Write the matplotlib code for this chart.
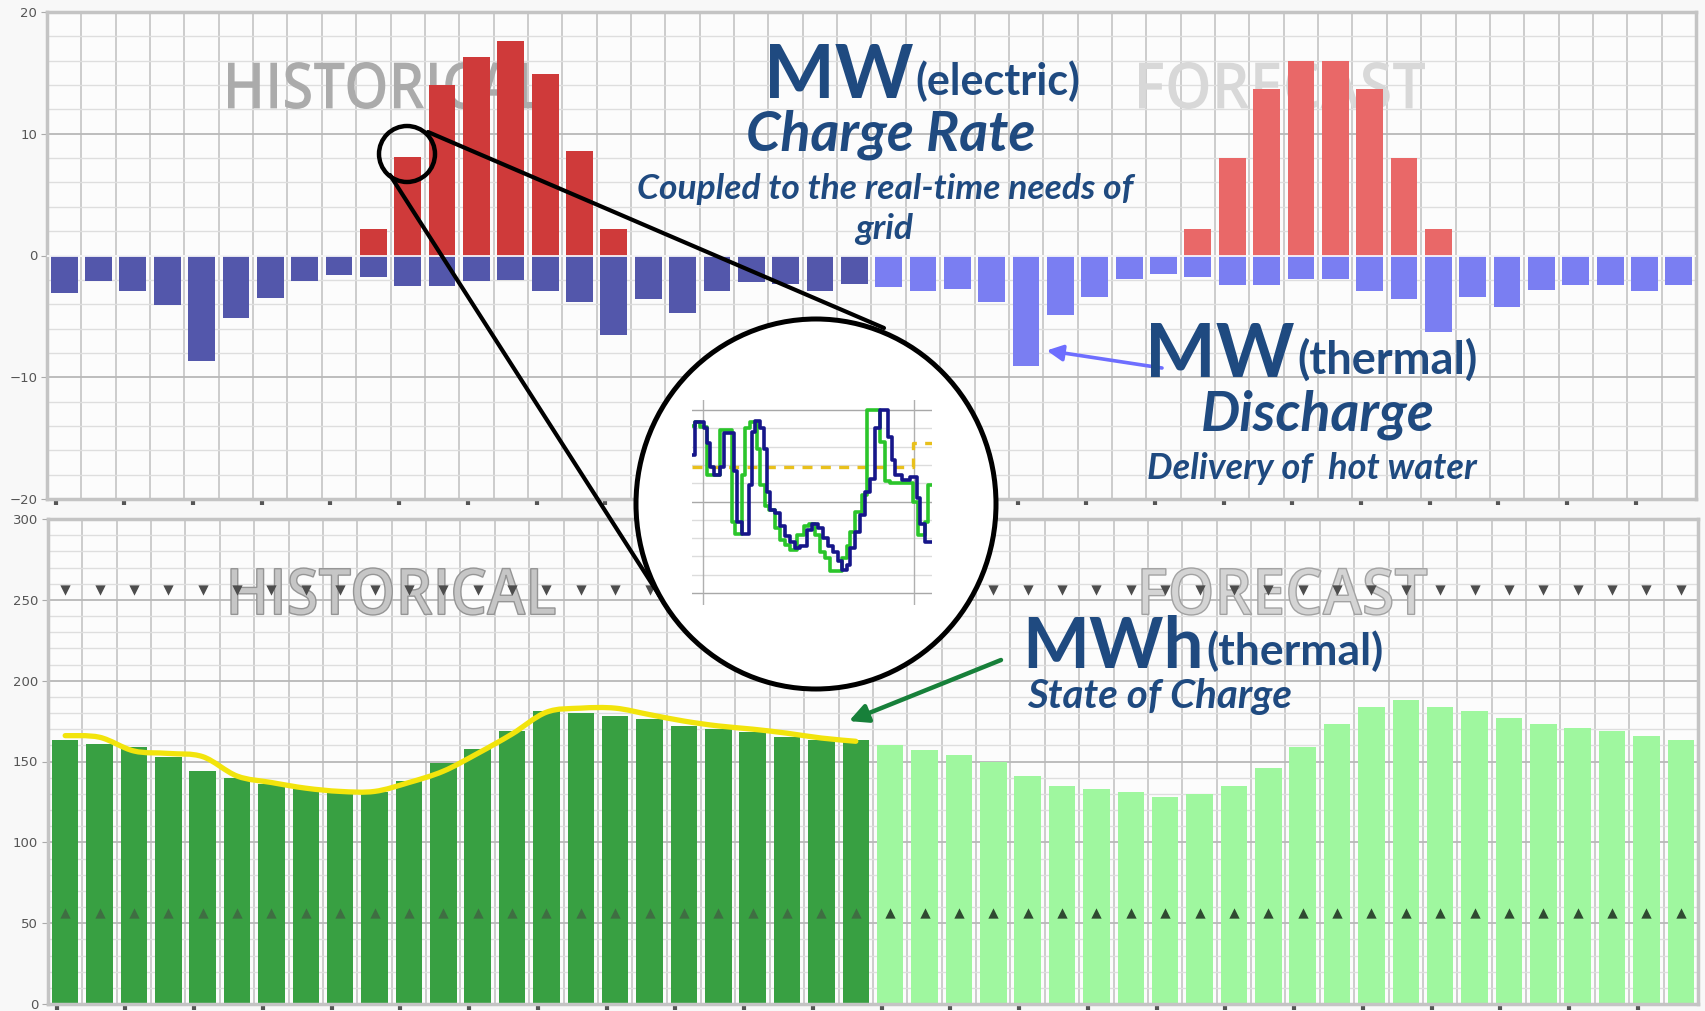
import matplotlib
matplotlib.use('Agg')
import matplotlib.pyplot as plt
import numpy as np
from matplotlib.patches import Ellipse, PathPatch
from matplotlib.path import Path
from matplotlib.textpath import TextPath
from matplotlib.font_manager import FontProperties
from matplotlib.transforms import Affine2D
from matplotlib.ticker import MultipleLocator

W, H = 1706, 1011

# 48 hourly slots: first 24 historical, last 24 forecast
n_slots = 48
n_hist = 24

# MW(electric) charge rate
charge_hist = [0, 0, 0, 0, 0, 0, 0, 0, 0, 2.2, 8.1, 14.0, 16.3, 17.6, 14.9, 8.6,
               2.2, 0, 0, 0, 0, 0, 0, 0]
charge_fc = [0, 0, 0, 0, 0, 0, 0, 0, 0, 2.2, 8.0, 13.7, 16.0, 16.0, 13.7, 8.0,
             2.2, 0, 0, 0, 0, 0, 0, 0]

# MW(thermal) discharge
discharge = [-3.1, -2.1, -2.95, -4.1, -8.7, -5.1, -3.5, -2.1, -1.6, -1.8, -2.5, -2.5,
             -2.1, -2.0, -2.95, -3.8, -6.5, -3.6, -4.7, -2.95, -2.2, -2.3, -2.95, -2.3,
             -2.6, -2.95, -2.75, -3.8, -9.1, -4.9, -3.4, -1.9, -1.5, -1.8, -2.4, -2.4,
             -1.9, -1.9, -2.95, -3.6, -6.3, -3.4, -4.2, -2.8, -2.4, -2.4, -2.95, -2.4]

# MWh(thermal) state of charge
soc = [163, 161, 159, 153, 144, 140, 136, 133, 131, 131, 138, 149,
       158, 169, 181, 180, 178, 176, 172, 170, 168, 165, 163, 163,
       160, 157, 154, 150, 141, 135, 133, 131, 128, 130, 135, 146,
       159, 173, 184, 188, 184, 181, 177, 173, 171, 169, 166, 163]
soc_measured = [166, 165, 156.5, 155, 153, 141, 137, 133.5, 131.5, 131.5, 137, 144,
                155, 167, 180.5, 183, 183, 179, 175, 172, 170, 167.5, 164.5, 162.5]
soc_upper = 256
soc_lower = 56

# magnified detail (step traces)
blue_x = [35, 45, 70, 80, 90, 100, 120, 130, 160, 170, 185, 205, 215, 225, 240, 250,
          260, 270, 285, 300, 315, 330, 345, 360, 380, 395, 415, 430, 445, 460, 475,
          485, 500, 510, 525, 540, 555, 570, 585, 600, 625, 635, 645, 665, 690, 710,
          720, 735, 756]
blue_v = [15.1, 18.7, 18.0, 16.4, 13.8, 12.9, 13.8, 17.5, 13.3, 7.8, 6.5, 11.8, 17.6,
          18.8, 18.0, 15.8, 11.1, 9.1, 8.7, 7.3, 6.2, 5.6, 4.9, 5.1, 6.9, 7.5, 7.1, 6.0,
          5.1, 4.5, 3.5, 2.5, 3.1, 4.9, 6.7, 8.5, 11.1, 12.5, 18.0, 20.0, 17.1, 14.5,
          12.9, 12.4, 12.7, 10.4, 7.5, 5.6, 5.6]
green_x = [35, 45, 60, 80, 120, 155, 165, 185, 195, 210, 230, 240, 255, 265, 285, 300,
           315, 330, 350, 370, 385, 405, 420, 435, 450, 485, 500, 510, 525, 545, 560,
           600, 615, 630, 700, 715, 735, 745, 756]
green_v = [18.3, 18.7, 18.2, 12.9, 17.8, 7.8, 6.5, 12.9, 18.0, 18.7, 15.8, 11.8, 9.5,
           9.1, 7.1, 5.8, 5.3, 4.7, 6.4, 7.3, 7.5, 6.4, 4.5, 3.8, 2.4, 3.8, 5.1, 6.7,
           8.9, 10.7, 20.0, 16.5, 12.2, 12.0, 10.0, 6.4, 7.8, 11.8, 11.8]
target_x = [35, 700, 756]
target_v = [13.8, 16.4, 16.4]

RED_H, RED_F = '#cf3a3a', '#e96868'
BLUE_H, BLUE_F = '#5357ab', '#7a7ef2'
GREEN_H, GREEN_F = '#38a042', '#9ff79f'
NAVY = '#1f4a80'

fig = plt.figure(figsize=(W / 100, H / 100), dpi=100)
fig.patch.set_facecolor('#f8f8f8')


def px_box(x0, y0, x1, y1):
    # pixel box measured from the top-left corner -> figure rect
    return [x0 / W, 1 - y1 / H, (x1 - x0) / W, (y1 - y0) / H]


def style_panel(ax, lo, hi, major, minor):
    ax.set_facecolor('#fcfcfc')
    ax.yaxis.set_major_locator(MultipleLocator(major))
    ax.yaxis.set_minor_locator(MultipleLocator(minor))
    ax.set_xticks(np.arange(0, n_slots, 2) + 0.25)
    ax.xaxis.set_minor_locator(MultipleLocator(1))
    ax.grid(which='major', axis='y', color='#b8b8b8', lw=1.3)
    ax.grid(which='minor', axis='y', color='#dedede', lw=1.0)
    ax.grid(which='minor', axis='x', color='#c8c8c8', lw=1.3)
    ax.set_axisbelow(True)
    ax.tick_params(axis='x', which='major', length=4, width=3, color='#555555',
                   labelbottom=False)
    ax.tick_params(axis='x', which='minor', length=0)
    ax.tick_params(axis='y', which='major', length=4, color='#aaaaaa',
                   labelsize=9.5, labelcolor='#555555', pad=3)
    ax.tick_params(axis='y', which='minor', length=0)
    for s in ax.spines.values():
        s.set_color('#c4c4c4')
        s.set_linewidth(2.5)
    ax.set_xlim(0, n_slots)
    ax.set_ylim(lo, hi)


def watermark(ax, text, box, fc, ec='none'):
    x0, y0, x1, y1 = box
    tp = TextPath((0, 0), text, size=100,
                  prop=FontProperties(family='Open Sans', weight='semibold'))
    bb = tp.get_extents()
    tr = (Affine2D().translate(-bb.x0, -bb.y0)
          .scale((x1 - x0) / bb.width, (y1 - y0) / bb.height)
          .translate(x0, H - y1).scale(1 / W, 1 / H) + fig.transFigure)
    ax.add_patch(PathPatch(tp, transform=tr, fc=fc, ec=ec, lw=1.0, zorder=1))


def smooth_path(xs, ys):
    # Catmull-Rom through the measured points, drawn as cubic Bezier segments
    pts = np.column_stack([xs, ys]).astype(float)
    verts = [pts[0]]
    codes = [Path.MOVETO]
    for i in range(len(pts) - 1):
        p0 = pts[max(i - 1, 0)]
        p1, p2 = pts[i], pts[i + 1]
        p3 = pts[min(i + 2, len(pts) - 1)]
        verts += [p1 + (p2 - p0) / 6, p2 - (p3 - p1) / 6, p2]
        codes += [Path.CURVE4] * 3
    return Path(verts, codes)


x = np.arange(n_slots) + 0.5
xh, xf = x[:n_hist], x[n_hist:]

# ---- top panel: charge / discharge rates
ax1 = fig.add_axes(px_box(47, 12, 1696, 499))
watermark(ax1, 'HISTORICAL', (228, 62, 544, 109), '#ababab')
watermark(ax1, 'FORECAST', (1139, 62, 1425, 109), '#d8d8d8')
ax1.bar(xh, charge_hist, width=0.78, color=RED_H, zorder=2)
ax1.bar(xf, charge_fc, width=0.78, color=RED_F, zorder=2)
ax1.bar(xh, discharge[:n_hist], width=0.78, color=BLUE_H, zorder=2)
ax1.bar(xf, discharge[n_hist:], width=0.78, color=BLUE_F, zorder=2)
ax1.axhline(0, color='white', lw=1.2, zorder=3)
style_panel(ax1, -20, 20, 10, 2)

# ---- bottom panel: state of charge
ax2 = fig.add_axes(px_box(48, 519, 1698, 1004))
watermark(ax2, 'HISTORICAL', (231, 568, 555, 615), '#c6c6c6', '#959595')
watermark(ax2, 'FORECAST', (1142, 568, 1427, 615), '#d4d4d4', '#a2a2a2')
ax2.bar(xh, soc[:n_hist], width=0.77, color=GREEN_H, zorder=2)
ax2.bar(xf, soc[n_hist:], width=0.77, color=GREEN_F, zorder=2)
ax2.add_patch(PathPatch(smooth_path(xh, soc_measured), fc='none', ec='#f2e40c',
                        lw=3.8, capstyle='round', zorder=4))
ax2.scatter(x, np.full(n_slots, soc_upper), marker='v', s=55, color='#4d4d4d',
            lw=0, zorder=5)
ax2.scatter(xh, np.full(n_hist, soc_lower), marker='^', s=55, color='#3f6e42',
            lw=0, zorder=5)
ax2.scatter(xf, np.full(n_slots - n_hist, soc_lower), marker='^', s=55,
            color='#2f4a31', lw=0, zorder=5)
style_panel(ax2, 0, 300, 50, 10)

# arrows to the data
ax1.annotate('', xy=(x[28] + 0.6, discharge[28] + 1.3), xycoords='data',
             xytext=(1162, H - 368), textcoords='figure pixels',
             arrowprops=dict(arrowstyle='-|>', color='#6e6eff', lw=2.6,
                             mutation_scale=24, shrinkA=0, shrinkB=0), zorder=6)
ax2.annotate('', xy=(x[23] - 0.2, soc[23] + 12), xycoords='data',
             xytext=(1001, H - 660), textcoords='figure pixels',
             arrowprops=dict(arrowstyle='-|>', color='#17803a', lw=3.2,
                             mutation_scale=28, shrinkA=0, shrinkB=0), zorder=6)

# ---- overlay: magnifier and labels (pixel coordinates, top-left origin)
ov = fig.add_axes([0, 0, 1, 1])
ov.set_xlim(0, W)
ov.set_ylim(H, 0)
ov.axis('off')
ov.patch.set_alpha(0)

ov.plot([428, 884], [132, 328], color='black', lw=3.0, solid_capstyle='round', zorder=5)
ov.plot([390, 670], [175, 612], color='black', lw=3.0, solid_capstyle='round', zorder=5)
ov.add_patch(Ellipse((407, 154), 56, 56, fc='none', ec='black', lw=3.2, zorder=6))
ov.add_patch(Ellipse((816, 504), 360, 370, fc='white', ec='black', lw=3.6, zorder=6))

font = 'Lato'
kw = dict(va='baseline', fontweight='bold', color=NAVY, family=font, zorder=7)
kwi = dict(kw, style='italic')

ov.text(914, 98, 'MW', ha='right', fontsize=54, **kw)
ov.text(915, 95, '(electric)', ha='left', fontsize=31, **kw)
ov.text(891, 150, 'Charge Rate', ha='center', fontsize=40, **kwi)
ov.text(885, 199, 'Coupled to the real-time needs of', ha='center', fontsize=25.5, **kwi)
ov.text(884, 239, 'grid', ha='center', fontsize=25.5, **kwi)

ov.text(1295, 377, 'MW', ha='right', fontsize=54, **kw)
ov.text(1297, 374, '(thermal)', ha='left', fontsize=32.5, **kw)
ov.text(1318, 430, 'Discharge', ha='center', fontsize=40, **kwi)
ov.text(1312, 479, 'Delivery of  hot water', ha='center', fontsize=26, **kwi)

ov.text(1204, 668, 'MWh', ha='right', fontsize=51, **kw)
ov.text(1206, 665, '(thermal)', ha='left', fontsize=32, **kw)
ov.text(1027, 708, 'State of Charge', ha='left', fontsize=29, **kwi)

# ---- inset inside the magnifier
axi = fig.add_axes(px_box(692, 400, 932, 605))
axi.set_facecolor('white')
axi.set_xlim(35, 756)
axi.set_ylim(-1.3, 21.1)
for v in range(0, 21, 2):
    axi.axhline(v, color='#a8a8a8' if v % 10 == 0 else '#dcdcdc', lw=1.0, zorder=0)
for v in (68, 703):
    axi.axvline(v, color='#b0b0b0', lw=1.0, zorder=0)
axi.step(target_x, target_v, where='post', color='#e8c01c', lw=2.4,
         ls=(0, (3, 2.5)), zorder=1)
axi.step(green_x, green_v, where='post', color='#2bc52b', lw=2.6, zorder=2)
axi.step(blue_x, blue_v, where='post', color='#16168a', lw=2.6, zorder=3)
axi.set_xticks([])
axi.set_yticks([])
for s in axi.spines.values():
    s.set_visible(False)

fig.savefig('out.png', dpi=100, facecolor=fig.get_facecolor())
